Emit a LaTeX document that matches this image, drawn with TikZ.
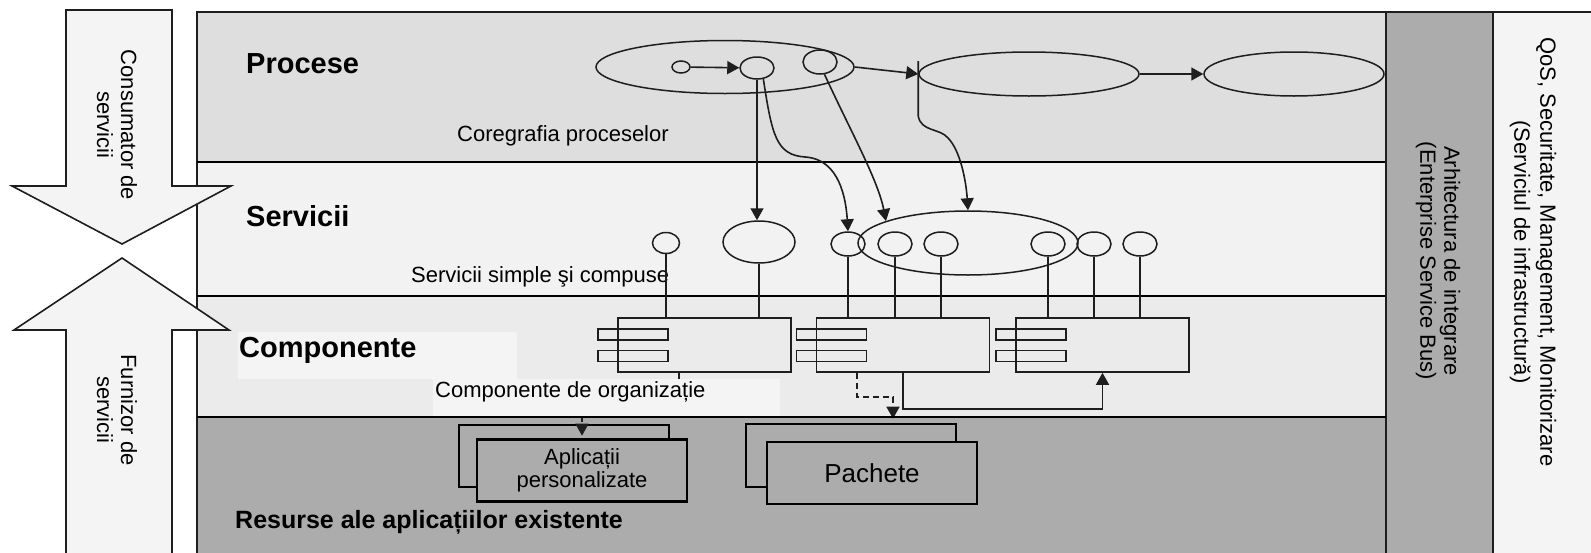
\documentclass[tikz,border=0pt]{standalone}
\usepackage{fontspec}
\setmainfont{Liberation Sans}
\usetikzlibrary{arrows.meta,shapes.geometric}
\definecolor{procfill}{RGB}{222,222,222}
\definecolor{servfill}{RGB}{242,242,242}
\definecolor{compfill}{RGB}{235,235,235}
\definecolor{resfill}{RGB}{172,172,172}
\definecolor{lightfill}{RGB}{244,244,244}
\definecolor{edge}{RGB}{30,30,30}

\begin{document}
\begin{tikzpicture}[x=1pt, y=-1pt,
    every node/.style={inner sep=0pt, font=\fontsize{22}{24}\selectfont},
    layer/.style={anchor=base west, font=\fontsize{29}{34}\selectfont\bfseries},
    note/.style={anchor=base west},
    oval/.style={draw=edge, ellipse, line width=1.5pt},
    ring/.style={oval, minimum width=34pt, minimum height=24pt},
    flow/.style={draw=edge, line width=1.6pt, -{Triangle[length=12pt,width=13pt]}},
    stem/.style={draw=edge, line width=1.4pt},
    comp/.style={draw=edge, line width=1.6pt, minimum width=173pt, minimum height=54pt},
    tab/.style={draw=edge, line width=1.6pt, minimum width=70pt, minimum height=11pt, anchor=west},
    res/.style={draw=black, fill=resfill, line width=2.6pt, minimum width=210pt, minimum height=62pt},
    side/.style={rotate=-90, align=center},
  ]
\useasboundingbox (0,0) rectangle (1591,552);

% layers
\fill[procfill] (197,12) rectangle (1386,162);
\fill[servfill] (197,162) rectangle (1386,296);
\fill[compfill] (197,296) rectangle (1386,417);
\fill[resfill] (197,417) rectangle (1386,560);
\draw[edge, line width=1.6pt] (197,560) -- (197,12) -- (1386,12);
\foreach \y in {162,296}
  \draw[black, line width=2.4pt] (197,\y) -- (1386,\y);

% bus and infrastructure columns
\draw[edge, line width=1.6pt, fill=resfill] (1386,12) rectangle (1493,560);
\draw[edge, line width=1.6pt, fill=lightfill] (1493,12) rectangle (1600,560);
\node[side] (bus) at (1438,261) {Arhitectura de integrare\\(Enterprise Service Bus)};
\node[side, font=\fontsize{22}{26}\selectfont] (infra) at (1533,252)
  {QoS, Securitate, Management, Monitorizare\\(Serviciul de infrastructură)};

% consumer / provider arrows
\draw[edge, line width=1.6pt, fill=lightfill]
  (66,10) -- (172,10) -- (172,186) -- (231,186) -- (122,244) -- (12,186) -- (66,186) -- cycle;
\draw[edge, line width=1.6pt, fill=lightfill]
  (122,258) -- (229,330) -- (172,330) -- (172,560) -- (66,560) -- (66,330) -- (14,330) -- cycle;
\node[side] (consumer) at (117,125) {Consumator de\\servicii};
\node[side] (provider) at (117,410) {Furnizor de\\servicii};

% processes
\node[layer] (procLbl) at (246,73) {Procese};
\node[note] (chorLbl) at (457,141) {Coregrafia proceselor};
\node[oval, minimum width=258pt, minimum height=53pt] (procA) at (725,67) {};
\node[ring, minimum width=18pt, minimum height=12pt] (p0) at (681,67) {};
\node[ring, minimum height=22pt] (p1) at (757,68) {};
\node[ring] (p2) at (820,62) {};
\node[oval, minimum width=220pt, minimum height=44pt] (procB) at (1029,74) {};
\node[oval, minimum width=180pt, minimum height=44pt] (procC) at (1294,74) {};

% services
\node[layer] (servLbl) at (246,226) {Servicii};
\node[note, fill=servfill, inner sep=1pt] (servNote) at (410,282) {Servicii simple şi compuse};
\node[ring, minimum width=27pt, minimum height=21pt] (svcS) at (666,243) {};
\node[ring, minimum width=72pt, minimum height=42pt] (svcL) at (759,242) {};
\node[oval, minimum width=220pt, minimum height=64pt] (svcBus) at (968,243) {};
\node[ring] (svcA) at (848,244) {};
\node[ring] (svcB) at (895,244) {};
\node[ring] (svcC) at (941,244) {};
\node[ring] (svcD) at (1048,244) {};
\node[ring] (svcE) at (1094,244) {};
\node[ring] (svcF) at (1140,244) {};

% components
\node[comp] (compA) at (704.5,345) {};
\node[comp] (compB) at (903,345) {};
\node[comp] (compC) at (1102.5,345) {};
\foreach \c in {compA,compB,compC} {
  \node[tab] (\c-t1) at ([xshift=-20pt,yshift=10.5pt]\c.west) {};
  \node[tab] (\c-t2) at ([xshift=-20pt,yshift=-11pt]\c.west) {};
}
\foreach \s/\c in {svcS/compA, svcL/compA, svcA/compB, svcB/compB, svcC/compB,
                   svcD/compC, svcE/compC, svcF/compC}
  \draw[stem] (\s.south) -- (\s.south |- \c.north);

% existing resources
\node[res] (appBack) at (564,456) {};
\node[res, font=\fontsize{22}{23}\selectfont, align=center] (appFront) at (582,470.5) {Aplicații\\personalizate};
\node[res, minimum height=63pt] (pkgBack) at (851,455.5) {};
\node[res, font=\fontsize{26}{30}\selectfont] (pkgFront) at (872,473) {Pachete};
\node[layer, font=\fontsize{25}{30}\selectfont\bfseries] (resLbl) at (235,528) {Resurse ale aplicațiilor existente};

% component connectors
\coordinate (orgBend) at (679,417);
\draw[flow, dash pattern=on 6pt off 4pt] ([xshift=-25.5pt]compA.south) -- (orgBend)
  -| ([xshift=18pt,yshift=-12pt]appBack.north);
\draw[flow, dash pattern=on 6pt off 4pt] ([xshift=-46pt]compB.south) -- ++(0,24)
  -| ([xshift=42pt,yshift=4pt]pkgBack.north);
\draw[flow] (compB.south) -- ++(0,36) -| (compC.south);
\draw[black, line width=2.6pt] (197,417) -- (1386,417);
\fill[lightfill] (238,332) rectangle (517,379);
\fill[lightfill] (433,379) rectangle (780,415.5);
\node[layer] (compLbl) at (239,357) {Componente};
\node[note] (orgLbl) at (435,397) {Componente de organizație};

% process connectors
\draw[flow] (p0) -- (p1);
\draw[flow] (procA.east) -- (procB.west);
\draw[flow] (procB) -- (procC);
\draw[flow] (p1.south) -- (p1.south |- svcL.north);
\draw[flow] (p1.-60) .. controls (772,135) and (776,155) .. (805,157)
  .. controls (840,159) and (846,200) .. (svcA.north);
\draw[flow] (p2.-70) .. controls (850,130) and (878,180) .. (svcBus.165);
\draw[flow] ([yshift=13pt]procB.west) -- ++(0,55) .. controls (921,132) and (940,128) .. (948,138)
  .. controls (960,150) and (966,180) .. (svcBus.north);
\end{tikzpicture}
\end{document}
